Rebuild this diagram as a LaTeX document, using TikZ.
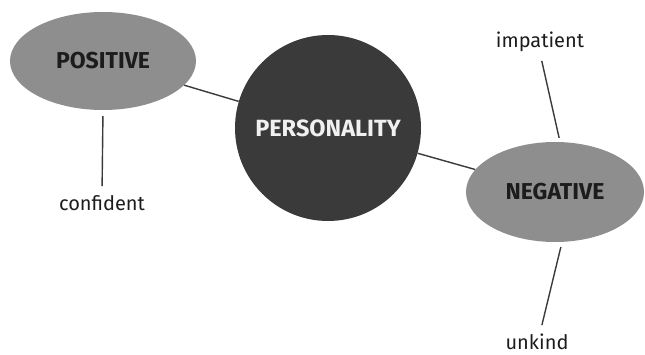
\documentclass[tikz,border=0pt]{standalone}
\usepackage{fontspec}
\setmainfont{Fira Sans}
\usetikzlibrary{shapes.geometric}

\definecolor{trait}{HTML}{8E8E8E}
\definecolor{core}{HTML}{3A3A3A}
\definecolor{ink}{HTML}{1C1C1C}

\tikzset{
  side/.style={ellipse,fill=trait,inner sep=0pt,text=ink,font=\fontsize{23}{27}\selectfont\bfseries},
  hub/.style={circle,fill=core,inner sep=0pt,minimum size=186pt,text=white!94!black,font=\fontsize{23.5}{28}\selectfont\bfseries},
  word/.style={inner sep=1pt,text=ink,font=\fontsize{20}{24}\selectfont},
  link/.style={core,line width=1.4pt}
}

\begin{document}
\begin{tikzpicture}[x=1pt,y=1pt]
\path[use as bounding box] (0,0) rectangle (645,354);
% the three ovals
\node[side,minimum width=186pt,minimum height=98pt] (pos) at (103,293) {POSITIVE};
\node[hub] (pers) at (328,226) {PERSONALITY};
\node[side,minimum width=178pt,minimum height=100pt] (neg) at (555,162) {NEGATIVE};
% the words hanging off them
\node[word] (conf) at (102,151) {confident};
\node[word] (imp) at (540,312) {impatient};
\node[word] (unk) at (537,12) {unkind};
% connectors
\draw[link] (pos) -- (pers);
\draw[link] (pers) -- (neg);
\draw[link,shorten <=6pt,shorten >=8pt] (pos.south) -- (conf.north);
\draw[link,shorten <=8pt,shorten >=4pt] (imp.south) -- ([xshift=5pt]neg.north);
\draw[link,shorten <=5pt,shorten >=8pt] ([xshift=7pt]neg.south) -- ([xshift=3pt]unk.north);
\end{tikzpicture}
\end{document}
